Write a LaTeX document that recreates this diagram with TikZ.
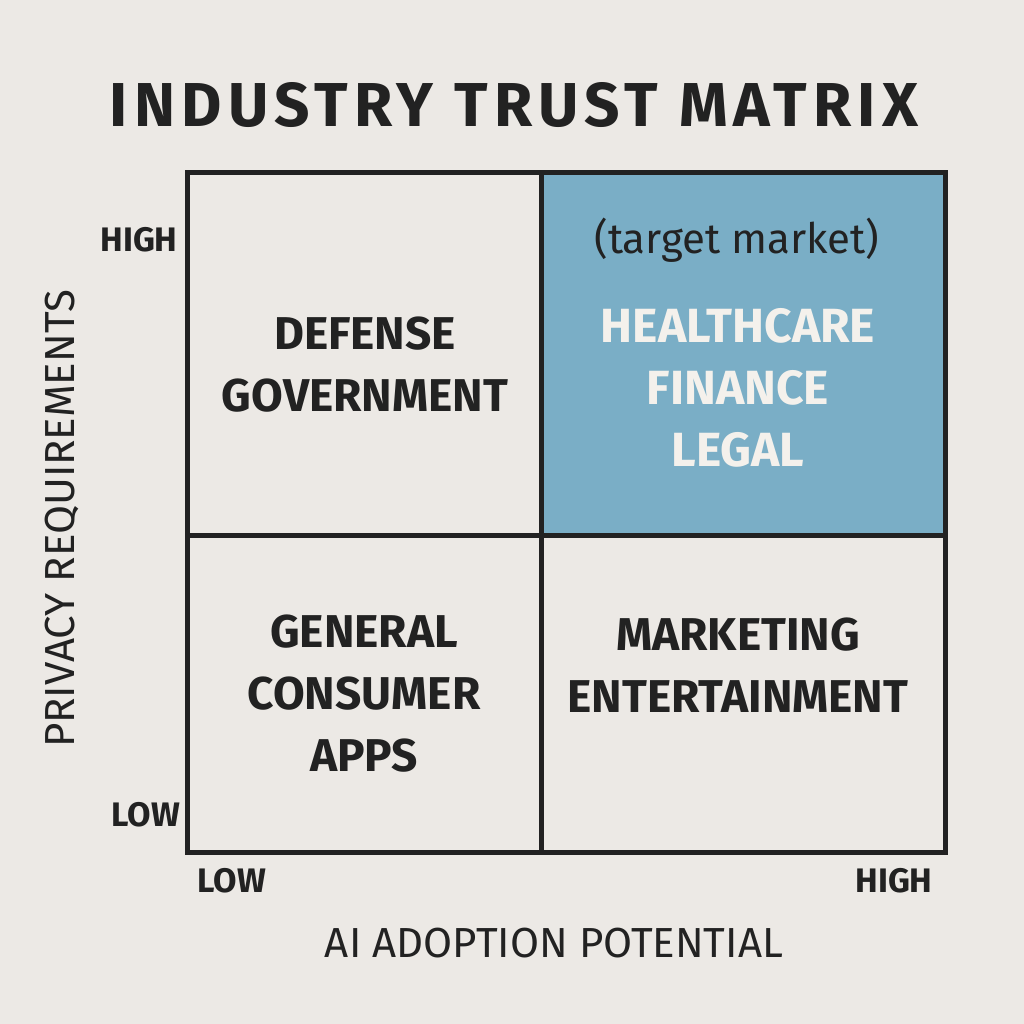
\documentclass[tikz,border=0pt]{standalone}
\usepackage{fontspec}
\setmainfont{Fira Sans}
\usepackage{tikz}
\definecolor{paper}{HTML}{ECE9E5}
\definecolor{ink}{HTML}{222222}
\definecolor{target}{HTML}{7AAEC6}
\definecolor{onblue}{HTML}{F4F1EC}
\tikzset{
  cellbox/.style={draw=ink, line width=5pt},
  celltext/.style={text=ink, font=\fontsize{46}{62}\selectfont\bfseries, align=center},
  ticklabel/.style={text=ink, font=\fontsize{34}{40}\selectfont\bfseries, inner sep=0pt},
  axislabel/.style={text=ink, font=\fontsize{42}{50}\selectfont, inner sep=0pt}
}
\begin{document}
\begin{tikzpicture}[x=1pt, y=-1pt]
\fill[paper] (0,0) rectangle (1024,1024);
\useasboundingbox (0,0) rectangle (1024,1024);
% title
\node[text=ink, font=\fontsize{62}{66}\selectfont\bfseries\addfontfeature{LetterSpace=10}] (title) at (514,105) {INDUSTRY TRUST MATRIX};
% quadrants
\fill[target] (541,173) rectangle (945,535);
\draw[cellbox] (187,173) rectangle (945,852);
\draw[cellbox] (541,173) -- (541,852);
\draw[cellbox] (187,535) -- (945,535);
% quadrant texts
\node[celltext] (defense) at (365,365) {DEFENSE\\GOVERNMENT};
\node[text=ink, font=\fontsize{42}{46}\selectfont] (tmarket) at (737,240) {(target market)};
\node[celltext, text=onblue, font=\fontsize{48}{62}\selectfont\bfseries] (health) at (738,388) {HEALTHCARE\\FINANCE\\LEGAL};
\node[celltext] (consumer) at (364,694) {GENERAL\\CONSUMER\\APPS};
\node[celltext] (marketing) at (738,665) {MARKETING\\ENTERTAINMENT};
% axes
\node[ticklabel] (yhigh) at (139,240) {HIGH};
\node[ticklabel] (ylow) at (146,815) {LOW};
\node[ticklabel] (xlow) at (232,881) {LOW};
\node[ticklabel] (xhigh) at (894,881) {HIGH};
\node[axislabel, rotate=90] (ylabel) at (62,519) {PRIVACY REQUIREMENTS};
\node[axislabel] (xlabel) at (554,943) {AI ADOPTION POTENTIAL};
\end{tikzpicture}
\end{document}
